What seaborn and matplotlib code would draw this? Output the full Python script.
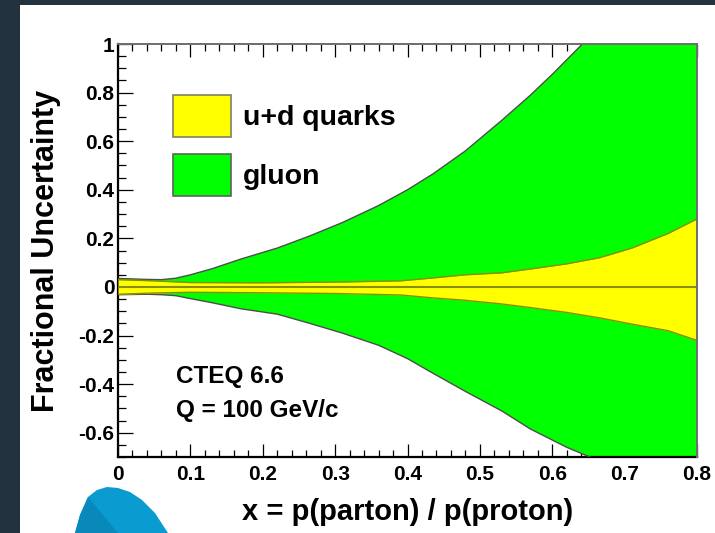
import numpy as np
import pandas as pd
import matplotlib
matplotlib.use("Agg")
import matplotlib.pyplot as plt
import seaborn as sns
from matplotlib.patches import Patch, Rectangle, Polygon
from matplotlib.ticker import MultipleLocator, FuncFormatter

# ---------------- data ----------------
x_gluon = [0.0, 0.02, 0.04, 0.06, 0.08, 0.10, 0.13, 0.17, 0.22, 0.265, 0.31,
           0.36, 0.40, 0.435, 0.48, 0.53, 0.57, 0.60, 0.62, 0.64, 0.70, 0.80]
gluon_hi = [0.035, 0.033, 0.031, 0.030, 0.036, 0.050, 0.075, 0.115, 0.160, 0.210, 0.265,
            0.335, 0.400, 0.465, 0.560, 0.685, 0.790, 0.875, 0.935, 0.995, 1.200, 1.600]
x_gluon_lo = [0.0, 0.02, 0.04, 0.06, 0.08, 0.10, 0.13, 0.17, 0.22, 0.265, 0.31,
              0.36, 0.40, 0.435, 0.48, 0.53, 0.57, 0.60, 0.62, 0.656, 0.70, 0.80]
gluon_lo = [-0.032, -0.031, -0.030, -0.032, -0.036, -0.048, -0.065, -0.090, -0.112, -0.150, -0.190,
            -0.240, -0.295, -0.355, -0.430, -0.510, -0.585, -0.630, -0.660, -0.705, -0.770, -0.950]

x_quark = [0.0, 0.05, 0.10, 0.20, 0.30, 0.39, 0.435, 0.48, 0.53, 0.57, 0.62, 0.665, 0.71, 0.76, 0.80]
quark_hi = [0.030, 0.025, 0.018, 0.017, 0.020, 0.025, 0.037, 0.050, 0.058, 0.074, 0.095, 0.120, 0.160, 0.220, 0.280]
quark_lo = [-0.030, -0.025, -0.022, -0.024, -0.027, -0.033, -0.045, -0.055, -0.070, -0.085, -0.105, -0.127, -0.153, -0.180, -0.220]

x_ticks = [0.0, 0.1, 0.2, 0.3, 0.4, 0.5, 0.6, 0.7, 0.8]
y_ticks = [-0.6, -0.4, -0.2, 0.0, 0.2, 0.4, 0.6, 0.8, 1.0]
legend_labels = ["u+d quarks", "gluon"]
annot_lines = ["CTEQ 6.6", "Q = 100 GeV/c"]
x_label = "x = p(parton) / p(proton)"
y_label = "Fractional Uncertainty"

# ---------------- style ----------------
sns.set_theme(style="ticks")
plt.rcParams["font.family"] = ["Liberation Sans", "DejaVu Sans"]
plt.rcParams["font.weight"] = "bold"
for key in ["text.color", "axes.labelcolor", "xtick.color", "ytick.color"]:
    plt.rcParams[key] = "black"

GREEN = "#00ff00"
YELLOW = "#ffff00"
OLIVE = "#8c8c00"
EDGE = "#4d4d4d"

W, H = 715, 533
fig = plt.figure(figsize=(W / 100, H / 100), dpi=100)
fig.patch.set_facecolor("#22333f")
# white canvas area
fig.patches.append(Rectangle((20 / W, 0), 1 - 20 / W, 1 - 5 / H, transform=fig.transFigure,
                             facecolor="white", edgecolor="none", zorder=-5))
# decorative blue shape at the bottom left
blob = [(75, 533), (80, 515), (88, 497), (97, 490), (107, 487), (118, 488), (130, 492),
        (142, 500), (155, 513), (168, 533)]
fig.patches.append(Polygon([(px / W, 1 - py / H) for px, py in blob], closed=True,
                           transform=fig.transFigure, facecolor="#0a9bd0", edgecolor="none", zorder=-4))
fig.patches.append(Polygon([(px / W, 1 - py / H) for px, py in [(88, 497), (118, 533), (75, 533), (80, 515)]],
                           closed=True, transform=fig.transFigure, facecolor="#0889ba",
                           edgecolor="none", zorder=-3))

ax = fig.add_axes([118 / W, 1 - 457 / H, (697 - 118) / W, (457 - 44) / H])
ax.set_zorder(1)
ax.set_facecolor("white")

df_gh = pd.DataFrame({"x": x_gluon, "y": gluon_hi})
df_gl = pd.DataFrame({"x": x_gluon_lo, "y": gluon_lo})
df_q = pd.DataFrame({"x": x_quark, "hi": quark_hi, "lo": quark_lo})

# gluon band: merge both edges on a common x grid for filling
x_fill = np.union1d(x_gluon, x_gluon_lo)
g_hi_fill = np.interp(x_fill, x_gluon, gluon_hi)
g_lo_fill = np.interp(x_fill, x_gluon_lo, gluon_lo)
ax.fill_between(x_fill, g_lo_fill, g_hi_fill, color=GREEN, lw=0, zorder=2)
sns.lineplot(data=df_gh, x="x", y="y", ax=ax, color=EDGE, lw=1.0, zorder=3)
sns.lineplot(data=df_gl, x="x", y="y", ax=ax, color=EDGE, lw=1.0, zorder=3)

ax.fill_between(df_q["x"], df_q["lo"], df_q["hi"], color=YELLOW, lw=0, zorder=4)
sns.lineplot(data=df_q, x="x", y="hi", ax=ax, color=OLIVE, lw=1.0, zorder=5)
sns.lineplot(data=df_q, x="x", y="lo", ax=ax, color=OLIVE, lw=1.0, zorder=5)
ax.axhline(0, color=OLIVE, lw=1.5, zorder=6)

ax.set_xlim(0, 0.8)
ax.set_ylim(-0.7, 1.0)

fmt = FuncFormatter(lambda v, p: ("%g" % round(v, 3)).replace("\u2212", "-"))
ax.set_xticks(x_ticks)
ax.set_yticks(y_ticks)
ax.xaxis.set_major_formatter(fmt)
ax.yaxis.set_major_formatter(fmt)
ax.xaxis.set_minor_locator(MultipleLocator(0.02))
ax.yaxis.set_minor_locator(MultipleLocator(0.05))

ax.tick_params(axis="x", which="both", direction="in", top=True, bottom=True,
               labelsize=15, pad=6, width=0.9, color="black", labelcolor="black")
ax.tick_params(axis="x", which="major", length=9.5)
ax.tick_params(axis="x", which="minor", length=5)
ax.tick_params(axis="y", which="both", direction="in", left=True, right=False,
               labelsize=15, pad=2.5, width=0.9, color="black", labelcolor="black")
ax.tick_params(axis="y", which="major", length=11)
ax.tick_params(axis="y", which="minor", length=5.5)
for lab in ax.get_xticklabels() + ax.get_yticklabels():
    lab.set_fontweight("bold")

for side in ["left", "bottom"]:
    ax.spines[side].set_color("black")
    ax.spines[side].set_linewidth(1.6)
for side in ["top", "right"]:
    ax.spines[side].set_color("#6e6e6e")
    ax.spines[side].set_linewidth(1.4)
    ax.spines[side].set_zorder(10)

ax.set_xlabel(x_label, fontsize=21, fontweight="bold", va="center", color="black")
ax.xaxis.set_label_coords(0.5, (457 - 512) / 413)
ax.set_ylabel(y_label, fontsize=22, fontweight="bold", va="center", color="black")
ax.yaxis.set_label_coords((46 - 118) / 579, 0.5)

handles = [Patch(facecolor=YELLOW, edgecolor="#808060", lw=1.2),
           Patch(facecolor=GREEN, edgecolor="#606060", lw=1.2)]
leg = ax.legend(handles, legend_labels, loc="upper left",
                bbox_to_anchor=((173 - 118) / 579, (457 - 95) / 413),
                frameon=False, handlelength=2.035, handleheight=1.89,
                handletextpad=0.42, labelspacing=0.61, borderpad=0, borderaxespad=0,
                prop={"weight": "bold", "size": 20.5})
for t in leg.get_texts():
    t.set_color("black")

ax.text((176 - 118) / 579, (457 - 377) / 413, annot_lines[0], transform=ax.transAxes,
        fontsize=17.5, fontweight="bold", ha="left", va="center", color="black")
ax.text((176 - 118) / 579, (457 - 410) / 413, annot_lines[1], transform=ax.transAxes,
        fontsize=17.5, fontweight="bold", ha="left", va="center", color="black")

fig.savefig("out.png", dpi=100, facecolor=fig.get_facecolor())
